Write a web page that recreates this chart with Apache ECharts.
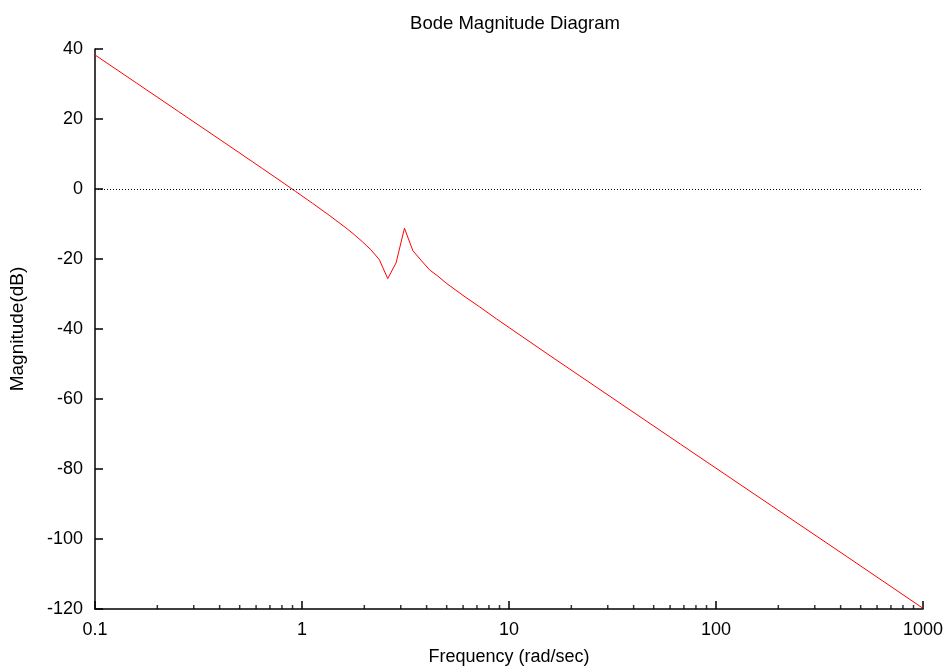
<!DOCTYPE html>
<html>
<head>
<meta charset="utf-8">
<style>
  html, body { margin: 0; padding: 0; background: #fff; }
  #chart { width: 945px; height: 667px; }
</style>
<script src="https://cdn.jsdelivr.net/npm/echarts@6/dist/echarts.min.js"></script>
</head>
<body>
<div id="chart"></div>
<script>
// Frequency samples (rad/sec) and magnitude response (dB)
const frequency = [
  0.1, 0.1592, 0.2535, 0.4037, 0.6428, 0.7743, 0.9326, 1.1233, 1.3530, 1.6298,
  1.7886, 1.9630, 2.1544, 2.3645, 2.5950, 2.8480, 3.1257, 3.4305, 3.7649, 4.1320,
  4.5349, 4.9770, 5.9948, 7.2208, 8.6975, 10.476, 16.681, 26.561, 67.34, 170.75,
  432.9, 1000
];
const magnitude = [
  38.3, 30.22, 22.12, 14.02, 5.88, 2.59, -0.72, -4.07, -7.50, -11.10,
  -13.03, -15.12, -17.39, -20.2, -25.6, -21.1, -11.2, -17.6, -20.4, -23.1,
  -24.9, -26.9, -30.4, -33.7, -37.1, -40.4, -48.6, -56.7, -72.9, -89.06,
  -105.2, -119.8
];

// Axis ticks
const xMajorTicks = [0.1, 1, 10, 100, 1000];
const xMinorTicks = [
  0.2, 0.3, 0.4, 0.5, 0.6, 0.7, 0.8, 0.9,
  2, 3, 4, 5, 6, 7, 8, 9,
  20, 30, 40, 50, 60, 70, 80, 90,
  200, 300, 400, 500, 600, 700, 800, 900
];
const yMin = -120, yMax = 40, yStep = 20;

const FONT = 'Liberation Sans, Arial, Helvetica, sans-serif';
const chart = echarts.init(document.getElementById('chart'), null, { renderer: 'canvas' });

chart.setOption({
  animation: false,
  backgroundColor: '#ffffff',
  title: {
    text: 'Bode Magnitude Diagram',
    left: 510, top: 9, textAlign: 'center',
    textStyle: { fontFamily: FONT, fontSize: 18.5, fontWeight: 'normal', color: '#000' }
  },
  grid: { left: 95, right: 22, top: 49, bottom: 58, containLabel: false, outerBoundsMode: 'none' },
  xAxis: {
    type: 'log', logBase: 10, min: 0.1, max: 1000,
    name: 'Frequency (rad/sec)', nameLocation: 'middle', nameGap: 39,
    nameTextStyle: { fontFamily: FONT, fontSize: 18, color: '#000' },
    axisLine: { show: true, onZero: false, lineStyle: { color: '#000', width: 1.5 } },
    axisTick: { show: true, inside: true, length: 8, lineStyle: { color: '#000', width: 1.5 } },
    axisLabel: {
      margin: 12, fontFamily: FONT, fontSize: 18, color: '#000',
      formatter: v => {
        const m = xMajorTicks.find(t => Math.abs(Math.log10(t) - Math.log10(v)) < 1e-6);
        return m === undefined ? '' : String(m);
      }
    },
    splitLine: { show: false }
  },
  yAxis: {
    type: 'value', min: yMin, max: yMax, interval: yStep,
    name: 'Magnitude(dB)', nameLocation: 'middle', nameGap: 68,
    nameTextStyle: { fontFamily: FONT, fontSize: 19, color: '#000' },
    axisLine: { show: true, onZero: false, lineStyle: { color: '#000', width: 1.5 } },
    axisTick: { show: true, inside: true, length: 8, lineStyle: { color: '#000', width: 1.5 } },
    axisLabel: { margin: 12, fontFamily: FONT, fontSize: 18, color: '#000' },
    splitLine: { show: false }
  },
  series: [
    {
      type: 'line',
      data: frequency.map((f, i) => [f, magnitude[i]]),
      showSymbol: false,
      symbol: 'none',
      lineStyle: { color: '#ff0000', width: 1 },
      z: 3,
      markLine: {
        silent: true,
        symbol: 'none',
        label: { show: false },
        lineStyle: { color: '#000', width: 1, type: [1, 2] },
        data: [{ yAxis: 0 }]
      }
    },
    {
      // minor ticks of the logarithmic frequency axis
      type: 'scatter',
      silent: true,
      clip: false,
      data: xMinorTicks.map(f => [f, yMin]),
      symbol: 'rect',
      symbolSize: [1.5, 4],
      symbolOffset: [0, -2],
      itemStyle: { color: '#000' },
      z: 4
    }
  ]
});
</script>
</body>
</html>
